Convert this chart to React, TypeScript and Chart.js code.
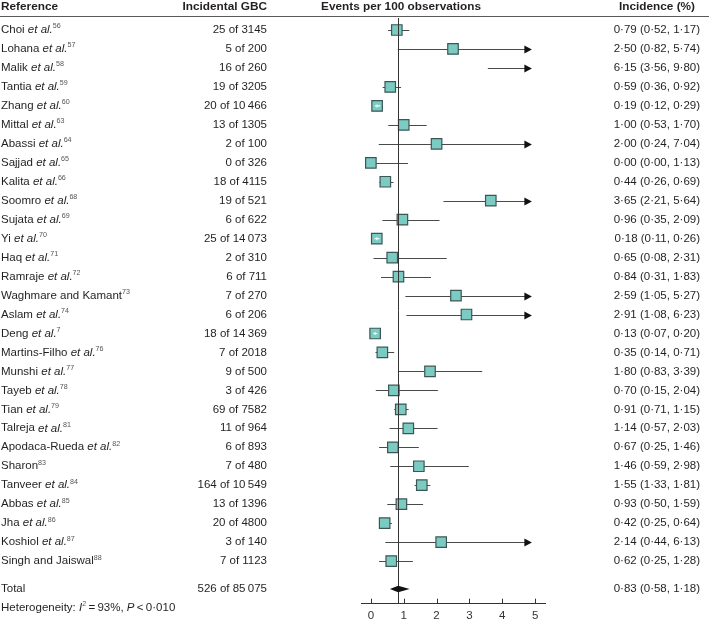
import React, { useEffect, useRef } from 'react';
import { Chart, registerables } from 'chart.js';

Chart.register(...registerables);

// ---------- data ----------
const authors = [
  'Choi', 'Lohana', 'Malik', 'Tantia', 'Zhang', 'Mittal', 'Abassi', 'Sajjad', 'Kalita', 'Soomro',
  'Sujata', 'Yi', 'Haq', 'Ramraje', 'Waghmare and Kamant', 'Aslam', 'Deng', 'Martins-Filho', 'Munshi', 'Tayeb',
  'Tian', 'Talreja', 'Apodaca-Rueda', 'Sharon', 'Tanveer', 'Abbas', 'Jha', 'Koshiol', 'Singh and Jaiswal',
];
const hasEtAl = [
  true, true, true, true, true, true, true, true, true, true,
  true, true, true, true, false, true, true, true, true, true,
  true, true, true, false, true, true, true, true, false,
];
const refs = [
  '56', '57', '58', '59', '60', '63', '64', '65', '66', '68',
  '69', '70', '71', '72', '73', '74', '7', '76', '77', '78',
  '79', '81', '82', '83', '84', '85', '86', '87', '88',
];
const events = [25, 5, 16, 19, 20, 13, 2, 0, 18, 19, 6, 25, 2, 6, 7, 6, 18, 7, 9, 3, 69, 11, 6, 7, 164, 13, 20, 3, 7];
const totals = [3145, 200, 260, 3205, 10466, 1305, 100, 326, 4115, 521, 622, 14073, 310, 711, 270, 206, 14369, 2018, 500, 426, 7582, 964, 893, 480, 10549, 1396, 4800, 140, 1123];
const est = [0.79, 2.5, 6.15, 0.59, 0.19, 1.0, 2.0, 0.0, 0.44, 3.65, 0.96, 0.18, 0.65, 0.84, 2.59, 2.91, 0.13, 0.35, 1.8, 0.7, 0.91, 1.14, 0.67, 1.46, 1.55, 0.93, 0.42, 2.14, 0.62];
const lo = [0.52, 0.82, 3.56, 0.36, 0.12, 0.53, 0.24, 0.0, 0.26, 2.21, 0.35, 0.11, 0.08, 0.31, 1.05, 1.08, 0.07, 0.14, 0.83, 0.15, 0.71, 0.57, 0.25, 0.59, 1.33, 0.5, 0.25, 0.44, 0.25];
const hi = [1.17, 5.74, 9.8, 0.92, 0.29, 1.7, 7.04, 1.13, 0.69, 5.64, 2.09, 0.26, 2.31, 1.83, 5.27, 6.23, 0.2, 0.71, 3.39, 2.04, 1.15, 2.03, 1.46, 2.98, 1.81, 1.59, 0.64, 6.13, 1.28];

const totalEvents = 526;
const totalN = 85075;
const pooledEst = 0.83;
const pooledLo = 0.58;
const pooledHi = 1.18;
const hetI2 = '93%';
const hetP = '0·010';

const xTicks = [0, 1, 2, 3, 4, 5];
const headers = ['Reference', 'Incidental GBC', 'Events per 100 observations', 'Incidence (%)'];

// ---------- layout / style constants ----------
const W = 709;
const H = 623;
const X_MIN = -0.3;
const X_MAX = 5.3;
const ARROW_AT = 4.9;
const Y_MIN = -0.633;
const Y_MAX = 30.22;
const ROW_TOTAL = 29.47;
const ROW_HET = 30.47;
const ROW_HEADER = -1.21;
const ROW_RULE = -0.74;
const FONT = '"Liberation Sans", Arial, Helvetica, sans-serif';
const FS = 11.5;
const FS_HEAD = 11.8;
const TEXT = '#231f20';
const SQ_FILL = '#7ccbc3';
const SQ_BORDER = '#3b5654';
const SQ_SIDE = 10.5;
const COL_REF = 1;
const COL_GBC = 267;
const COL_EVENTS = 401;
const COL_INC = 700;
const COL_INC_HEAD = 695;

type Seg = { t: string; s: 'n' | 'i' | 'sup' | 'b' };

const fmt2 = (v: number) => v.toFixed(2).replace('.', '·');
const fmtN = (v: number) => {
  const s = String(v);
  if (s.length < 5) return s;
  return s.replace(/\B(?=(\d{3})+(?!\d))/g, '\u2009');
};

function segFont(s: Seg['s']) {
  if (s === 'i') return `italic ${FS}px ${FONT}`;
  if (s === 'b') return `bold ${FS_HEAD}px ${FONT}`;
  if (s === 'sup') return `${FS * 0.62}px ${FONT}`;
  return `${FS}px ${FONT}`;
}

function drawRich(ctx: CanvasRenderingContext2D, segs: Seg[], x: number, y: number, align: 'left' | 'right' | 'center') {
  let w = 0;
  const widths = segs.map((sg) => {
    ctx.font = segFont(sg.s);
    const m = ctx.measureText(sg.t).width;
    w += m;
    return m;
  });
  let cx = align === 'left' ? x : align === 'right' ? x - w : x - w / 2;
  ctx.textAlign = 'left';
  ctx.textBaseline = 'middle';
  segs.forEach((sg, k) => {
    ctx.font = segFont(sg.s);
    ctx.fillStyle = sg.s === 'sup' ? '#555' : TEXT;
    ctx.fillText(sg.t, cx, sg.s === 'sup' ? y - 3.5 : y);
    cx += widths[k];
  });
}

const forestPlugin = {
  id: 'forest',
  beforeDatasetsDraw(chart: any) {
    const { ctx, scales } = chart;
    const x = scales.x;
    const y = scales.y;
    ctx.save();
    ctx.strokeStyle = '#4a4a4a';
    ctx.fillStyle = '#111';
    ctx.lineWidth = 1;
    for (let i = 0; i < est.length; i++) {
      const py = Math.round(y.getPixelForValue(i)) + 0.5;
      const arrow = hi[i] > X_MAX - 0.3;
      const x0 = x.getPixelForValue(Math.max(lo[i], X_MIN));
      const x1 = x.getPixelForValue(arrow ? ARROW_AT : hi[i]);
      ctx.beginPath();
      ctx.moveTo(x0, py);
      ctx.lineTo(arrow ? x1 - 5 : x1, py);
      ctx.stroke();
      if (arrow) {
        ctx.beginPath();
        ctx.moveTo(x1, py);
        ctx.lineTo(x1 - 7.5, py - 4);
        ctx.lineTo(x1 - 7.5, py + 4);
        ctx.closePath();
        ctx.fill();
      }
    }
    ctx.restore();
  },
  afterDatasetsDraw(chart: any) {
    const { ctx, scales, chartArea } = chart;
    const x = scales.x;
    const y = scales.y;
    ctx.save();

    // light inner marks for boxes that hide their whole interval
    for (let i = 0; i < est.length; i++) {
      const cx = x.getPixelForValue(est[i]);
      const a = x.getPixelForValue(lo[i]);
      const b = x.getPixelForValue(hi[i]);
      if (a > cx - SQ_SIDE / 2 && b < cx + SQ_SIDE / 2 && est[i] > 0) {
        const py = y.getPixelForValue(i);
        ctx.strokeStyle = '#eefaf8';
        ctx.lineWidth = 1.2;
        ctx.beginPath();
        ctx.moveTo(a, py);
        ctx.lineTo(b, py);
        ctx.moveTo(cx, py - 1.5);
        ctx.lineTo(cx, py + 1.5);
        ctx.stroke();
      }
    }

    // reference line at pooled estimate
    const rx = Math.round(x.getPixelForValue(pooledEst)) + 0.5;
    ctx.strokeStyle = '#333';
    ctx.lineWidth = 1;
    ctx.beginPath();
    ctx.moveTo(rx, chartArea.top);
    ctx.lineTo(rx, chartArea.bottom);
    ctx.stroke();

    // pooled diamond
    const ty = y.getPixelForValue(ROW_TOTAL);
    ctx.fillStyle = '#111';
    ctx.beginPath();
    ctx.moveTo(x.getPixelForValue(pooledLo), ty);
    ctx.lineTo(x.getPixelForValue(pooledEst), ty - 3.2);
    ctx.lineTo(x.getPixelForValue(pooledHi), ty);
    ctx.lineTo(x.getPixelForValue(pooledEst), ty + 3.2);
    ctx.closePath();
    ctx.fill();

    // upward tick marks on axis
    ctx.strokeStyle = '#333';
    ctx.lineWidth = 1;
    xTicks.forEach((v) => {
      const tx = Math.round(x.getPixelForValue(v)) + 0.5;
      ctx.beginPath();
      ctx.moveTo(tx, chartArea.bottom);
      ctx.lineTo(tx, chartArea.bottom - 4.5);
      ctx.stroke();
    });

    // header + rule
    const hy = y.getPixelForValue(ROW_HEADER);
    drawRich(ctx, [{ t: headers[0], s: 'b' }], COL_REF, hy, 'left');
    drawRich(ctx, [{ t: headers[1], s: 'b' }], COL_GBC, hy, 'right');
    drawRich(ctx, [{ t: headers[2], s: 'b' }], COL_EVENTS, hy, 'center');
    drawRich(ctx, [{ t: headers[3], s: 'b' }], COL_INC_HEAD, hy, 'right');
    const ry = Math.round(y.getPixelForValue(ROW_RULE)) + 0.5;
    ctx.strokeStyle = '#5a5a5a';
    ctx.lineWidth = 1.2;
    ctx.beginPath();
    ctx.moveTo(0, ry);
    ctx.lineTo(W, ry);
    ctx.stroke();

    // study rows
    for (let i = 0; i < authors.length; i++) {
      const py = y.getPixelForValue(i);
      const segs: Seg[] = hasEtAl[i]
        ? [{ t: authors[i] + ' ', s: 'n' }, { t: 'et al.', s: 'i' }, { t: refs[i], s: 'sup' }]
        : [{ t: authors[i], s: 'n' }, { t: refs[i], s: 'sup' }];
      drawRich(ctx, segs, COL_REF, py, 'left');
      drawRich(ctx, [{ t: `${fmtN(events[i])} of ${fmtN(totals[i])}`, s: 'n' }], COL_GBC, py, 'right');
      drawRich(ctx, [{ t: `${fmt2(est[i])} (${fmt2(lo[i])}, ${fmt2(hi[i])})`, s: 'n' }], COL_INC, py, 'right');
    }

    // total row
    drawRich(ctx, [{ t: 'Total', s: 'n' }], COL_REF, ty, 'left');
    drawRich(ctx, [{ t: `${totalEvents} of ${fmtN(totalN)}`, s: 'n' }], COL_GBC, ty, 'right');
    drawRich(ctx, [{ t: `${fmt2(pooledEst)} (${fmt2(pooledLo)}, ${fmt2(pooledHi)})`, s: 'n' }], COL_INC, ty, 'right');

    // heterogeneity
    const hty = y.getPixelForValue(ROW_HET);
    drawRich(
      ctx,
      [
        { t: 'Heterogeneity: ', s: 'n' },
        { t: 'I', s: 'i' },
        { t: '2', s: 'sup' },
        { t: '\u2009=\u2009' + hetI2 + ', ', s: 'n' },
        { t: 'P', s: 'i' },
        { t: '\u2009<\u2009' + hetP, s: 'n' },
      ],
      COL_REF,
      hty,
      'left'
    );

    ctx.restore();
  },
};

export default function App() {
  const ref = useRef<HTMLCanvasElement | null>(null);
  useEffect(() => {
    if (!ref.current) return;
    const chart = new Chart(ref.current, {
      type: 'scatter',
      data: {
        datasets: [
          {
            data: est.map((v, i) => ({ x: v, y: i })),
            pointStyle: 'rect',
            pointRadius: SQ_SIDE / Math.SQRT2,
            pointHoverRadius: SQ_SIDE / Math.SQRT2,
            backgroundColor: SQ_FILL,
            borderColor: SQ_BORDER,
            borderWidth: 1.2,
          },
        ],
      },
      options: {
        animation: false,
        responsive: true,
        maintainAspectRatio: false,
        devicePixelRatio: 1,
        events: [],
        layout: { padding: { left: 361, right: W - 545, top: 18, bottom: -6 } },
        plugins: { legend: { display: false }, tooltip: { enabled: false } },
        scales: {
          x: {
            type: 'linear',
            min: X_MIN,
            max: X_MAX,
            afterBuildTicks: (s: any) => {
              s.ticks = xTicks.map((v) => ({ value: v }));
            },
            grid: { display: false, drawTicks: false },
            border: { display: true, color: '#333', width: 1 },
            ticks: {
              padding: 6,
              color: '#333',
              font: { family: FONT, size: FS },
              maxRotation: 0,
              autoSkip: false,
            },
          },
          y: {
            type: 'linear',
            display: false,
            reverse: true,
            min: Y_MIN,
            max: Y_MAX,
          },
        },
      },
      plugins: [forestPlugin],
    });
    return () => chart.destroy();
  }, []);
  return (
    <div style={{ position: 'absolute', left: 0, top: 0, width: W, height: H, background: '#fff', overflow: 'hidden' }}>
      <canvas ref={ref} />
    </div>
  );
}
